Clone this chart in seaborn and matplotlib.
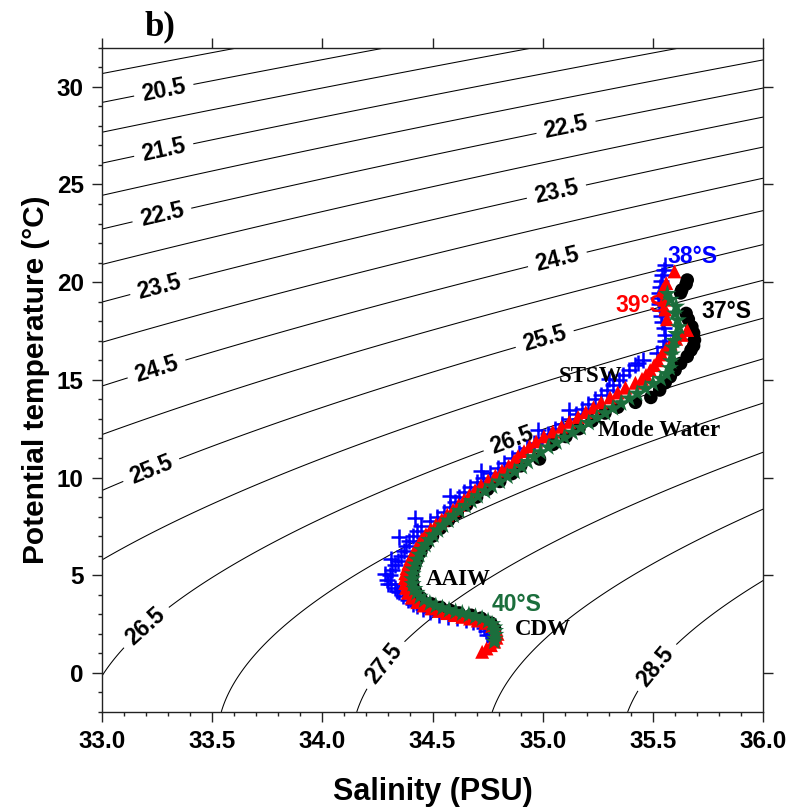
import numpy as np
import matplotlib
matplotlib.use("Agg")
import matplotlib.pyplot as plt
import seaborn as sns
from matplotlib.ticker import MultipleLocator, FormatStrFormatter

# ---------------- data ----------------
# 37°S  (black circles)
s37 = [35.655, 35.650, 35.630, 35.625, 35.650, 35.660, 35.676, 35.684, 35.688, 35.684,
       35.672, 35.655, 35.625, 35.600, 35.578, 35.555, 35.530, 35.490, 35.420, 35.340,
       35.282, 35.223, 35.164, 35.105, 35.047, 34.985, 34.900, 34.860, 34.805, 34.750,
       34.700, 34.655, 34.612, 34.572, 34.535, 34.500, 34.470, 34.447, 34.430, 34.417,
       34.410, 34.410, 34.423, 34.447, 34.492, 34.537, 34.580, 34.620, 34.675, 34.720,
       34.765, 34.782, 34.785, 34.782]
t37 = [20.11, 19.90, 19.60, 19.45, 18.40, 18.10, 17.72, 17.40, 17.04, 16.75,
       16.52, 16.20, 15.84, 15.50, 15.16, 14.85, 14.48, 14.10, 13.85, 13.60,
       13.30, 12.90, 12.50, 12.10, 11.70, 10.95, 10.60, 10.20, 9.80, 9.40,
       9.00, 8.60, 8.20, 7.80, 7.40, 7.00, 6.60, 6.20, 5.80, 5.40,
       5.00, 4.60, 4.20, 3.85, 3.55, 3.35, 3.20, 3.07, 2.95, 2.80,
       2.55, 2.25, 1.95, 1.70]

# 38°S  (blue plus)
s38 = [35.555, 35.548, 35.540, 35.536, 35.532, 35.528, 35.524, 35.528, 35.532, 35.536,
       35.540, 35.548, 35.555, 35.552, 35.547, 35.517, 35.456, 35.420, 35.390, 35.365,
       35.345, 35.318, 35.290, 35.262, 35.235, 35.205, 35.178, 35.150, 35.118, 35.085,
       35.055, 35.025, 34.995, 34.962, 34.930, 34.890, 34.860, 34.825, 34.795, 34.760,
       34.728, 34.700, 34.672, 34.645, 34.622, 34.600, 34.578, 34.550, 34.520, 34.488,
       34.450, 34.428, 34.410, 34.395, 34.382, 34.370, 34.358, 34.345, 34.332, 34.318,
       34.305, 34.293, 34.310, 34.330, 34.350, 34.368, 34.390, 34.410, 34.430, 34.455,
       34.490, 34.530, 34.570, 34.610, 34.650, 34.685, 34.715, 34.735, 34.742, 34.745,
       35.430, 35.300, 35.120, 34.980, 34.720, 34.580, 34.420, 34.350, 34.310, 34.285,
       34.300, 34.340]
t38 = [20.87, 20.60, 20.36, 20.05, 19.76, 19.45, 19.17, 18.87, 18.57, 18.27,
       17.97, 17.63, 17.29, 16.99, 16.69, 16.35, 16.01, 15.75, 15.50, 15.25,
       15.00, 14.75, 14.50, 14.25, 14.00, 13.75, 13.50, 13.25, 13.00, 12.75,
       12.50, 12.25, 12.00, 11.75, 11.50, 11.25, 11.00, 10.75, 10.50, 10.25,
       10.00, 9.75, 9.50, 9.25, 9.00, 8.75, 8.50, 8.25, 8.00, 7.75,
       7.50, 7.25, 7.00, 6.75, 6.50, 6.25, 6.00, 5.75, 5.50, 5.25,
       5.00, 4.75, 4.55, 4.35, 4.15, 3.95, 3.75, 3.55, 3.40, 3.25,
       3.10, 2.98, 2.88, 2.79, 2.70, 2.60, 2.47, 2.30, 2.12, 1.95,
       15.85, 15.05, 13.45, 12.45, 10.35, 9.05, 7.95, 6.95, 5.85, 5.05,
       4.55, 4.20]

# 39°S  (red triangles)
s39 = [35.597, 35.560, 35.543, 35.550, 35.555, 35.563, 35.655, 35.630, 35.605, 35.580,
       35.560, 35.540, 35.522, 35.505, 35.487, 35.468, 35.450, 35.420, 35.375, 35.340,
       35.305, 35.265, 35.230, 35.195, 35.160, 35.120, 35.085, 35.045, 35.005, 34.970,
       34.940, 34.915, 34.888, 34.870, 34.845, 34.815, 34.785, 34.752, 34.720, 34.693,
       34.667, 34.643, 34.618, 34.593, 34.567, 34.542, 34.516, 34.492, 34.470, 34.452,
       34.438, 34.424, 34.412, 34.400, 34.390, 34.382, 34.376, 34.374, 34.376, 34.380,
       34.388, 34.405, 34.430, 34.460, 34.495, 34.530, 34.565, 34.600, 34.635, 34.670,
       34.705, 34.740, 34.770, 34.790, 34.795, 34.790, 34.780, 34.765, 34.745, 34.725]
t39 = [20.55, 19.95, 19.60, 19.10, 18.60, 18.10, 17.55, 17.30, 17.10, 16.85,
       16.60, 16.30, 16.00, 15.75, 15.50, 15.25, 15.05, 14.85, 14.60, 14.35,
       14.10, 13.85, 13.60, 13.35, 13.10, 12.85, 12.60, 12.35, 12.10, 11.85,
       11.60, 11.35, 11.10, 10.85, 10.60, 10.35, 10.10, 9.85, 9.60, 9.35,
       9.10, 8.85, 8.60, 8.35, 8.10, 7.85, 7.60, 7.35, 7.10, 6.85,
       6.60, 6.35, 6.10, 5.85, 5.60, 5.35, 5.10, 4.85, 4.60, 4.35,
       4.10, 3.85, 3.62, 3.45, 3.30, 3.17, 3.06, 2.96, 2.87, 2.78,
       2.68, 2.56, 2.40, 2.20, 2.00, 1.80, 1.60, 1.42, 1.25, 1.08]

# 40°S  (green stars)
s40 = [35.565, 35.580, 35.605, 35.600, 35.612, 35.618, 35.605, 35.595, 35.590, 35.586,
       35.582, 35.576, 35.560, 35.535, 35.500, 35.465, 35.428, 35.392, 35.355, 35.318,
       35.282, 35.245, 35.208, 35.172, 35.135, 35.098, 35.062, 35.025, 34.990, 34.960,
       34.932, 34.905, 34.872, 34.840, 34.805, 34.770, 34.738, 34.705, 34.677, 34.650,
       34.622, 34.596, 34.572, 34.548, 34.525, 34.504, 34.485, 34.468, 34.452, 34.440,
       34.430, 34.421, 34.414, 34.410, 34.408, 34.410, 34.418, 34.428, 34.442, 34.462,
       34.488, 34.515, 34.545, 34.575, 34.605, 34.635, 34.665, 34.695, 34.725, 34.752,
       34.770, 34.780, 34.784, 34.785, 34.782, 34.780]
t40 = [19.40, 19.10, 18.75, 18.40, 18.05, 17.70, 17.35, 17.00, 16.65, 16.30,
       15.95, 15.60, 15.30, 15.05, 14.80, 14.55, 14.30, 14.05, 13.80, 13.55,
       13.30, 13.05, 12.80, 12.55, 12.30, 12.05, 11.80, 11.55, 11.30, 11.05,
       10.80, 10.55, 10.30, 10.05, 9.80, 9.55, 9.30, 9.05, 8.80, 8.55,
       8.30, 8.05, 7.80, 7.55, 7.30, 7.05, 6.80, 6.55, 6.30, 6.05,
       5.80, 5.55, 5.30, 5.05, 4.80, 4.55, 4.30, 4.10, 3.90, 3.72,
       3.56, 3.43, 3.32, 3.22, 3.13, 3.05, 2.97, 2.88, 2.78, 2.65,
       2.50, 2.33, 2.15, 1.95, 1.75, 1.60]

# density (sigma-theta) contours: unlabelled and labelled levels
plain_levels = [20.0, 21.0, 22.0, 23.0, 24.0, 25.0, 26.0, 27.0, 28.0]
label_levels = [20.5, 21.5, 22.5, 23.5, 24.5, 25.5, 26.5, 27.5, 28.5]
label_pos = [(33.283, 29.73), (33.283, 26.66), (33.273, 23.43), (33.26, 19.85),
             (33.25, 15.5), (33.228, 10.28), (33.205, 2.29),
             (35.106, 27.89), (35.06, 24.72), (35.069, 21.03), (35.01, 17.04),
             (34.865, 11.76), (34.276, 0.5), (35.52, 0.25)]

green = "#1b6e3c"

# ---------------- style ----------------
sns.set_style("ticks")
plt.rcParams["font.family"] = ["Liberation Sans", "DejaVu Sans"]
plt.rcParams["font.weight"] = "bold"
plt.rcParams["axes.labelweight"] = "bold"
for key in ["text.color", "axes.labelcolor", "xtick.color", "ytick.color", "axes.edgecolor"]:
    plt.rcParams[key] = "black"

fig = plt.figure(figsize=(7.91, 8.10), dpi=100)
ax = fig.add_axes([0.1286, 0.121, 0.8364, 0.8201])

# UNESCO EOS-80 density at surface pressure -> sigma-theta field
Sg, Tg = np.meshgrid(np.linspace(33, 36, 301), np.linspace(-2, 32, 341))
rho_w = (999.842594 + 6.793952e-2 * Tg - 9.095290e-3 * Tg**2 + 1.001685e-4 * Tg**3
         - 1.120083e-6 * Tg**4 + 6.536332e-9 * Tg**5)
A = 8.24493e-1 - 4.0899e-3 * Tg + 7.6438e-5 * Tg**2 - 8.2467e-7 * Tg**3 + 5.3875e-9 * Tg**4
B = -5.72466e-3 + 1.0227e-4 * Tg - 1.6546e-6 * Tg**2
C = 4.8314e-4
sigma = rho_w + A * Sg + B * Sg**1.5 + C * Sg**2 - 1000.0

ax.contour(Sg, Tg, sigma, levels=plain_levels, colors="black",
           linewidths=0.75, zorder=1)
cs = ax.contour(Sg, Tg, sigma, levels=label_levels, colors="black",
                linewidths=0.75, zorder=1)
ax.clabel(cs, manual=label_pos, fmt="%.1f",
          fontsize=16.5, inline=True, inline_spacing=8)

sns.scatterplot(x=s37, y=t37, marker="o", color="black", s=95, linewidth=0,
                edgecolor="none", ax=ax, zorder=3)
sns.scatterplot(x=s38, y=t38, marker="+", color="#0000ff", s=120, linewidth=1.8,
                ax=ax, zorder=4)
sns.scatterplot(x=s39, y=t39, marker="^", color="#ff0000", s=100, linewidth=0,
                edgecolor="none", ax=ax, zorder=5)
sns.scatterplot(x=s40, y=t40, marker="*", color=green, s=185, linewidth=0,
                edgecolor="none", ax=ax, zorder=6)

# annotations
ax.text(35.678, 21.33, "38°S", color="#0000ff", fontsize=16.5, ha="center", va="center", zorder=8)
ax.text(35.442, 18.82, "39°S", color="#ff0000", fontsize=16.5, ha="center", va="center", zorder=8)
ax.text(35.832, 18.52, "37°S", color="black", fontsize=16.5, ha="center", va="center", zorder=8)
ax.text(34.883, 3.52, "40°S", color=green, fontsize=16.5, ha="center", va="center", zorder=8)
serif = ["Liberation Serif", "DejaVu Serif"]
ax.text(35.219, 15.19, "STSW", family=serif, fontsize=16.5, ha="center", va="center", zorder=8)
ax.text(35.528, 12.43, "Mode Water", family=serif, fontsize=16.5, ha="center", va="center", zorder=8)
ax.text(34.617, 4.80, "AAIW", family=serif, fontsize=16.5, ha="center", va="center", zorder=8)
ax.text(35.0, 2.24, "CDW", family=serif, fontsize=16.5, ha="center", va="center", zorder=8)
ax.text(0.088, 1.018, "b)", transform=ax.transAxes, family=serif, fontsize=25,
        ha="center", va="baseline")

# axes
ax.set_xlim(33, 36)
ax.set_ylim(-2, 32)
ax.xaxis.set_major_locator(MultipleLocator(0.5))
ax.xaxis.set_minor_locator(MultipleLocator(0.1))
ax.yaxis.set_major_locator(MultipleLocator(5))
ax.yaxis.set_minor_locator(MultipleLocator(1))
ax.xaxis.set_major_formatter(FormatStrFormatter("%.1f"))
ax.yaxis.set_major_formatter(FormatStrFormatter("%d"))
ax.tick_params(which="both", direction="out", top=True, right=True,
               labeltop=False, labelright=False, width=1.0, color="#222222")
ax.tick_params(which="major", length=7, labelsize=17.5, pad=6)
ax.tick_params(which="minor", length=3, top=False, right=False)
for sp in ax.spines.values():
    sp.set_linewidth(1.0)
    sp.set_color("#222222")

ax.set_xlabel("Salinity (PSU)", fontsize=22)
ax.set_ylabel("Potential temperature (°C)", fontsize=21.5)
ax.xaxis.set_label_coords(0.5, -0.098)
ax.yaxis.set_label_coords(-0.078, 0.5)

fig.savefig("out.png", dpi=100)
